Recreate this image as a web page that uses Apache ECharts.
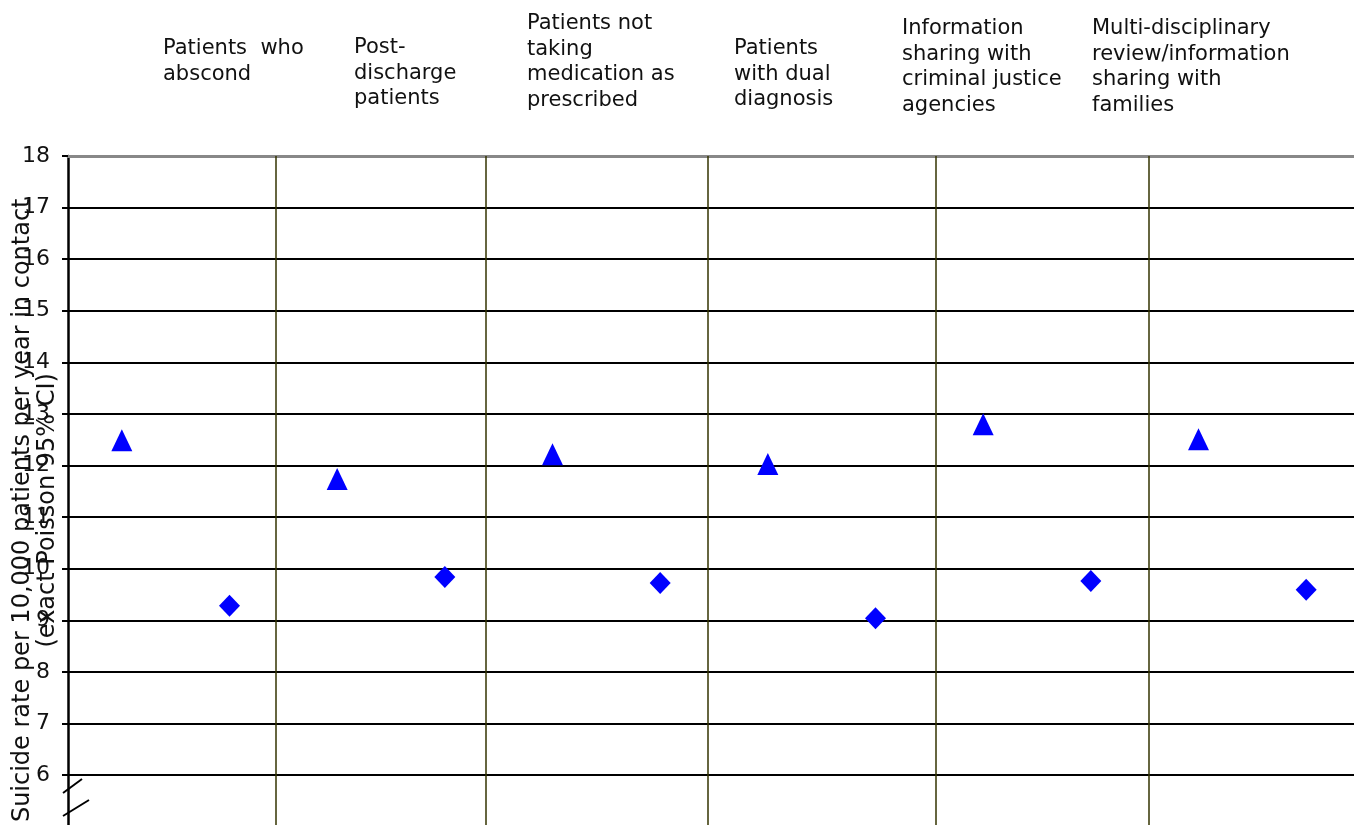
<!DOCTYPE html>
<html>
<head>
<meta charset="utf-8">
<script src="https://cdn.jsdelivr.net/npm/echarts@6/dist/echarts.min.js"></script>
<style>html,body{margin:0;padding:0;background:#fff;}#c{width:1354px;height:825px;}</style>
</head>
<body>
<div id="c"></div>
<script>
var categories = [
  "Patients  who\nabscond",
  "Post-\ndischarge\npatients",
  "Patients not\ntaking\nmedication as\nprescribed",
  "Patients\nwith dual\ndiagnosis",
  "Information\nsharing with\ncriminal justice\nagencies",
  "Multi-disciplinary\nreview/information\nsharing with\nfamilies"
];
var triangleValues = [12.49, 11.74, 12.22, 12.03, 12.80, 12.51];
var diamondValues = [9.28, 9.84, 9.72, 9.04, 9.76, 9.59];
var separatorX = [1.93, 3.88, 5.94, 8.06, 10.04];
var yTicks = [6, 7, 8, 9, 10, 11, 12, 13, 14, 15, 16, 17, 18];

// label layout (pixels)
var labelPos = [[163, 36], [354, 35], [527, 11], [734, 36], [902, 16], [1092, 16]];

var chart = echarts.init(document.getElementById('c'));
var FONT = 'DejaVu Sans';

var triData = triangleValues.map(function (v, i) { return [i * 2 + 0.5, v]; });
var diaData = diamondValues.map(function (v, i) { return [i * 2 + 1.5, v]; });

var graphics = categories.map(function (t, i) {
  return {
    type: 'text', left: labelPos[i][0], top: labelPos[i][1], z: 10,
    style: { text: t, font: '21px "' + FONT + '"', lineHeight: 25.5, fill: '#111' }
  };
});
graphics.push({ type: 'line', shape: { x1: 63, y1: 793, x2: 82, y2: 779 }, style: { stroke: '#000', lineWidth: 2 }, z: 10 });
graphics.push({ type: 'line', shape: { x1: 63, y1: 816, x2: 89, y2: 800 }, style: { stroke: '#000', lineWidth: 2 }, z: 10 });

chart.setOption({
  animation: false,
  backgroundColor: '#fff',
  textStyle: { fontFamily: FONT },
  grid: { left: 68, top: 156, width: 1292, height: 670.6, containLabel: false, outerBoundsMode: 'none' },
  xAxis: {
    type: 'value', min: 0, max: 12, position: 'top',
    axisLine: { show: true, onZero: false, lineStyle: { color: '#888', width: 3 } },
    axisTick: { show: false }, axisLabel: { show: false }, splitLine: { show: false }
  },
  yAxis: {
    type: 'value', min: 5, max: 18, interval: 1,
    name: 'Suicide rate per 10,000 patients per year in contact\n(exact Poisson 95% CI)',
    nameLocation: 'middle', nameRotate: 90, nameGap: 8, nameMoveOverlap: false,
    nameTextStyle: { fontFamily: FONT, fontSize: 24, color: '#111', lineHeight: 25, padding: [0, 38, 0, 0] },
    axisLine: { show: true, onZero: false, lineStyle: { color: '#000', width: 2.5 } },
    axisTick: { show: true, inside: false, length: 6, lineStyle: { color: '#000', width: 2 } },
    axisLabel: {
      margin: 18, fontSize: 22, color: '#111', fontFamily: FONT,
      formatter: function (v) { return yTicks.indexOf(v) >= 0 ? String(v) : ''; }
    },
    splitLine: { show: true, showMaxLine: false, lineStyle: { color: '#000', width: 2.2 } }
  },
  series: [
    {
      type: 'scatter', data: triData, symbol: 'triangle', symbolSize: [21, 22],
      itemStyle: { color: '#0000ff', opacity: 1 }, z: 5,
      markLine: {
        silent: true, symbol: 'none', label: { show: false },
        lineStyle: { color: '#333300', width: 1.5, type: 'solid' },
        data: separatorX.map(function (x) { return { xAxis: x }; })
      }
    },
    {
      type: 'scatter', data: diaData, symbol: 'diamond', symbolSize: [21, 22],
      itemStyle: { color: '#0000ff', opacity: 1 }, z: 5
    }
  ],
  graphic: graphics
});
</script>
</body>
</html>
